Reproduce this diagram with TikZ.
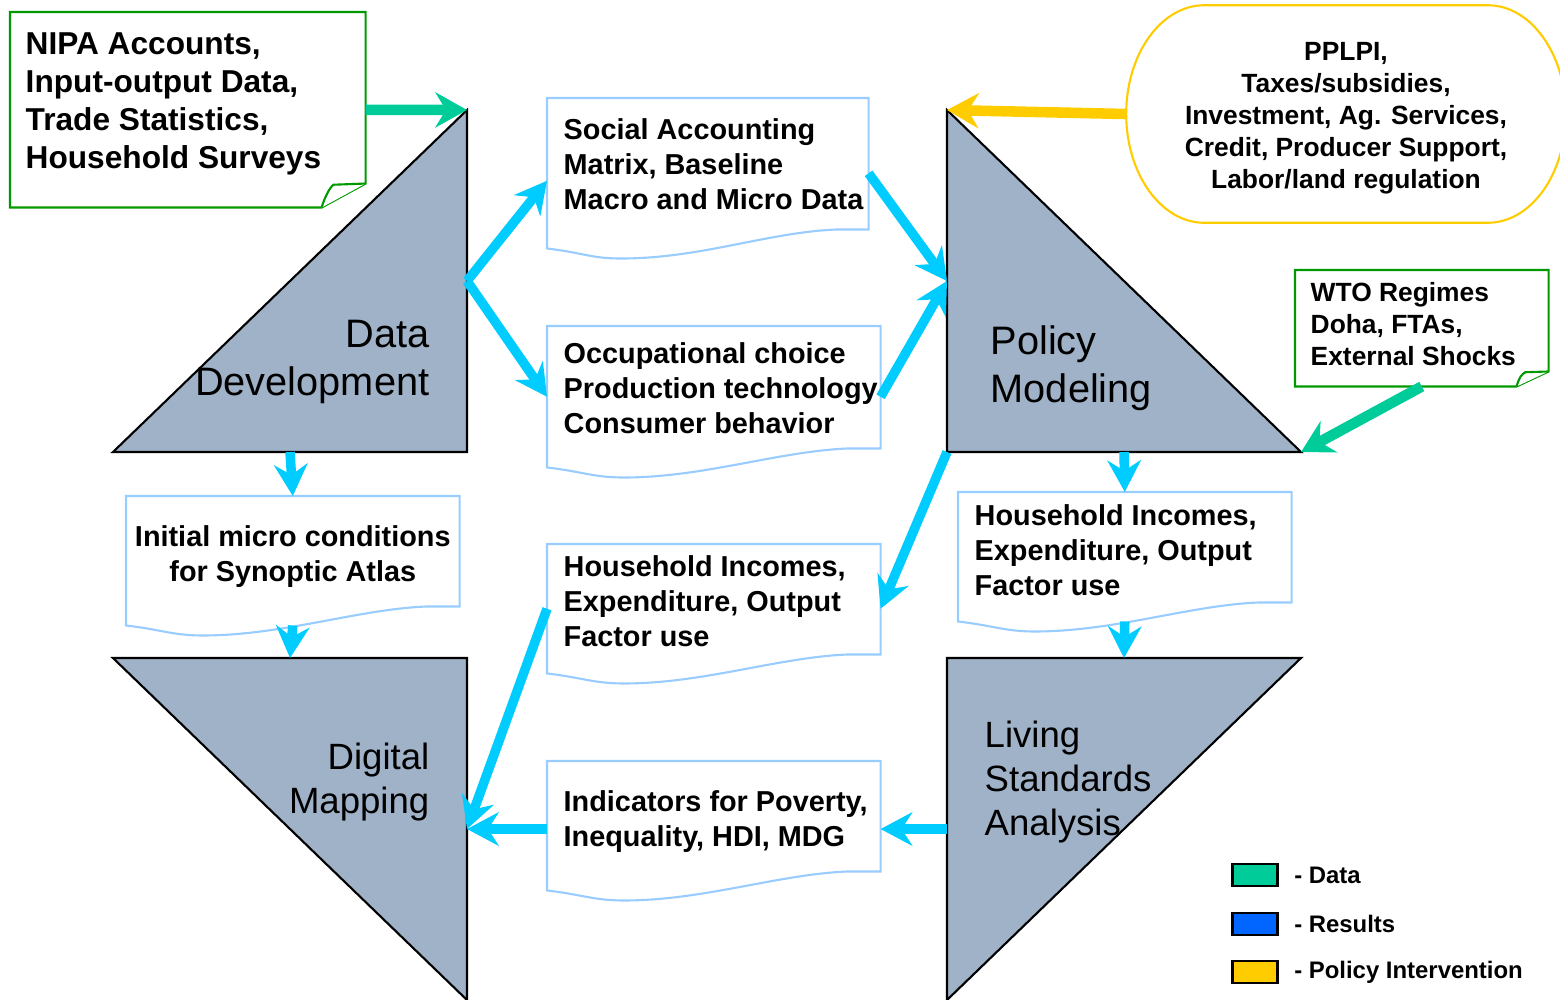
\documentclass[tikz,border=0pt]{standalone}
\usepackage{fontspec}
\setmainfont{Liberation Sans}
\usepackage{tikz}
\usetikzlibrary{calc,positioning,arrows.meta}

\definecolor{trifill}{RGB}{160,178,200}
\definecolor{rescyan}{RGB}{0,204,255}
\definecolor{datgreen}{RGB}{0,204,153}
\definecolor{notegreen}{RGB}{0,153,0}
\definecolor{polyellow}{RGB}{255,204,0}
\definecolor{docblue}{RGB}{153,204,255}
\definecolor{legblue}{RGB}{0,102,255}

\tikzset{
	tri/.style={fill=trifill,draw=black,line width=0.6pt},
	trilab/.style={inner sep=0pt,font=\fontsize{11.3}{13.6}\selectfont},
	trilabs/.style={inner sep=0pt,font=\fontsize{10.4}{12.5}\selectfont},
	docbox/.style={inner sep=0pt,minimum width=3.32cm,minimum height=1.28cm,anchor=north west},
	docedge/.style={draw=docblue,line width=0.6pt,fill=white},
	doctxt/.style={inner sep=0pt,align=left,anchor=west,font=\fontsize{8.2}{9.95}\selectfont\bfseries},
	notebox/.style={inner sep=0pt,anchor=north west},
	noteedge/.style={draw=notegreen,line width=0.6pt,fill=white},
	legsw/.style={draw=black,line width=0.6pt,minimum width=0.45cm,minimum height=0.22cm,inner sep=0pt},
	legtxt/.style={inner sep=0pt,font=\fontsize{6.8}{8}\selectfont\bfseries},
	res/.style={draw=rescyan,line width=2.7pt,-{Stealth[length=9pt,width=9.5pt,inset=3pt]}},
	dat/.style={draw=datgreen,line width=3pt,-{Stealth[length=9pt,width=10pt,inset=3pt]}},
	pol/.style={draw=polyellow,line width=3pt,-{Stealth[length=9pt,width=10pt,inset=3pt]}}
}

\newcommand{\docshape}[1]{%
	\draw[docedge] ($(#1.south west)!0.23!(#1.south east)+(0,10)$) .. controls +(-30,0) and +(35,4) .. (#1.south west)
		-- (#1.north west) -- (#1.north east) -- ($(#1.south east)+(0,-19)$)
		-- ($(#1.south west)!0.9!(#1.south east)+(0,-19)$) .. controls +(-70,3) and +(80,0) .. ($(#1.south west)!0.23!(#1.south east)+(0,10)$) -- cycle;}

\newcommand{\noteshape}[3]{%
	\draw[noteedge] (#1.south west) -- (#1.north west) -- (#1.north east) -- ($(#1.south east)+(0,-#3)$) -- ($(#1.south east)+(-#2,0)$) -- cycle;
	\draw[noteedge] ($(#1.south east)+(-#2,0)$) .. controls +(3,-10) and +(-4,3) .. ($(#1.south east)+(-0.73*#2,-0.95*#3)$) -- ($(#1.south east)+(0,-#3)$);}

\begin{document}
\begin{tikzpicture}[x=0.01cm,y=-0.01cm]
		\useasboundingbox (0,0) rectangle (1560,999);
		\clip (0,0) rectangle (1560,999);

		\coordinate(dd1) at (113,452); \coordinate(dd2) at (467,452); \coordinate(dd3) at (467,110);
		\coordinate(pm1) at (947,110); \coordinate(pm2) at (947,452); \coordinate(pm3) at (1301,452);
		\coordinate(dm1) at (113,658); \coordinate(dm2) at (467,658); \coordinate(dm3) at (467,1000);
		\coordinate(ls1) at (947,658); \coordinate(ls2) at (1301,658); \coordinate(ls3) at (947,1000);
		\draw[tri] (dd1) -- (dd2) -- (dd3) -- cycle;
		\draw[tri] (pm1) -- (pm2) -- (pm3) -- cycle;
		\draw[tri] (dm1) -- (dm2) -- (dm3) -- cycle;
		\draw[tri] (ls1) -- (ls2) -- (ls3) -- cycle;
		\node(ddlab) [trilab,align=right,anchor=east] at (430,362) {Data\\Development};
		\node(pmlab) [trilab,align=left,anchor=west] at (990,368) {Policy\\Modeling};
		\node(dmlab) [trilabs,align=right,anchor=east] at (430,782) {Digital\\Mapping};
		\node(lslab) [trilabs,align=left,anchor=west] at (984,782) {Living\\Standards\\Analysis};

		\node(sam) [docbox,minimum width=3.2cm,minimum height=1.49cm] at (547,98) {};
		\node(occ) [docbox,minimum height=1.40cm] at (547,326) {};
		\node(init) [docbox] at (126,496) {};
		\node(hhl) [docbox] at (547,544) {};
		\node(hhr) [docbox] at (958,492) {};
		\node(ind) [docbox] at (547,761) {};
		\docshape{sam} \docshape{occ} \docshape{init} \docshape{hhl} \docshape{hhr} \docshape{ind}
		\node(samtxt) [doctxt] at ($(sam.west)+(16,-9)$) {Social Accounting\\Matrix, Baseline\\Macro and Micro Data};
		\node(occtxt) [doctxt] at ($(occ.west)+(16,-9)$) {Occupational choice\\Production technology\\Consumer behavior};
		\node(inittxt) [doctxt,align=center,anchor=center] at ($(init.center)+(0,-4)$) {Initial micro conditions\\for Synoptic Atlas};
		\node(hhltxt) [doctxt] at ($(hhl.west)+(16,-8)$) {Household Incomes,\\Expenditure, Output\\Factor use};
		\node(hhrtxt) [doctxt] at ($(hhr.west)+(16,-7)$) {Household Incomes,\\Expenditure, Output\\Factor use};
		\node(indtxt) [doctxt] at ($(ind.west)+(16,-4)$) {Indicators for Poverty,\\Inequality, HDI, MDG};

		\node(nipa) [notebox,minimum width=3.54cm,minimum height=1.94cm] at (10,12) {};
		\node(wto) [notebox,minimum width=2.52cm,minimum height=1.15cm] at (1295,270) {};
		\noteshape{nipa}{44}{24} \noteshape{wto}{32}{15}
		\node(nipatxt) [inner sep=0pt,align=left,anchor=west,font=\fontsize{9}{10.8}\selectfont\bfseries] at (25,104) {NIPA Accounts,\\Input-output Data,\\Trade Statistics,\\Household Surveys};
		\node(wtotxt) [inner sep=0pt,align=left,anchor=west,font=\fontsize{7.5}{9.07}\selectfont\bfseries] at (1310,324) {WTO Regimes\\Doha, FTAs,\\External Shocks};

		\node(pplpi) [minimum width=4.38cm,minimum height=2.16cm,inner sep=0pt] at (1346,114) {};
		\draw[draw=polyellow,line width=0.6pt] ($(pplpi.north west)+(78,0)$) -- ($(pplpi.north east)+(-78,0)$)
			.. controls +(43,0) and +(0,-60) .. (pplpi.east) .. controls +(0,60) and +(43,0) .. ($(pplpi.south east)+(-78,0)$)
			-- ($(pplpi.south west)+(78,0)$) .. controls +(-43,0) and +(0,60) .. (pplpi.west)
			.. controls +(0,-60) and +(-43,0) .. ($(pplpi.north west)+(78,0)$) -- cycle;
		\node(pplpitxt) [inner sep=0pt,align=center,font=\fontsize{7.5}{9.07}\selectfont\bfseries] at ($(pplpi.center)+(0,4)$) {PPLPI,\\Taxes/subsidies,\\Investment, Ag. Services,\\Credit, Producer Support,\\Labor/land regulation};

		\coordinate(ddmid) at ($(dd2)!0.5!(dd3)$);
		\coordinate(pmmid) at ($(pm1)!0.5!(pm2)$);
		\coordinate(dmmid) at ($(dm2)!0.5!(dm3)$);
		\coordinate(lsmid) at ($(ls1)!0.5!(ls3)$);
		\draw[res] ($(dd1)!0.5!(dd2)$) -- (init.north);
		\draw[res] (init.south) -- ($(dm1)!0.5!(dm2)$);
		\draw[res] (ddmid) -- ($(sam.north west)!0.55!(sam.south west)$);
		\draw[res] (ddmid) -- (occ.west);
		\draw[res] (sam.east) -- (pmmid);
		\draw[res] (occ.east) -- (pmmid);
		\draw[res] (pm2) -- (hhl.east);
		\draw[res] ($(pm2)!0.5!(pm3)$) -- (hhr.north);
		\draw[res] (hhr.south) -- ($(ls1)!0.5!(ls2)$);
		\draw[res] (lsmid) -- (ind.east |- lsmid);
		\draw[res] (ind.west |- dmmid) -- (dmmid);
		\draw[res] (hhl.west) -- (dmmid);
		\draw[dat] (nipa.east) -- (dd3);
		\draw[dat] (wto.south) -- (pm3);
		\draw[pol] (pplpi.west) -- (pm1);

		\node(swdat) [legsw,fill=datgreen] at (1255,875) {};
		\node(swres) [legsw,fill=legblue,below=0.25cm of swdat] {};
		\node(swpol) [legsw,fill=polyellow,below=0.24cm of swres] {};
		\node(legdat) [legtxt,right=0.15cm of swdat] {- Data};
		\node(legres) [legtxt,right=0.15cm of swres] {- Results};
		\node(legpol) [legtxt,right=0.15cm of swpol] {- Policy Intervention};
\end{tikzpicture}
\end{document}
